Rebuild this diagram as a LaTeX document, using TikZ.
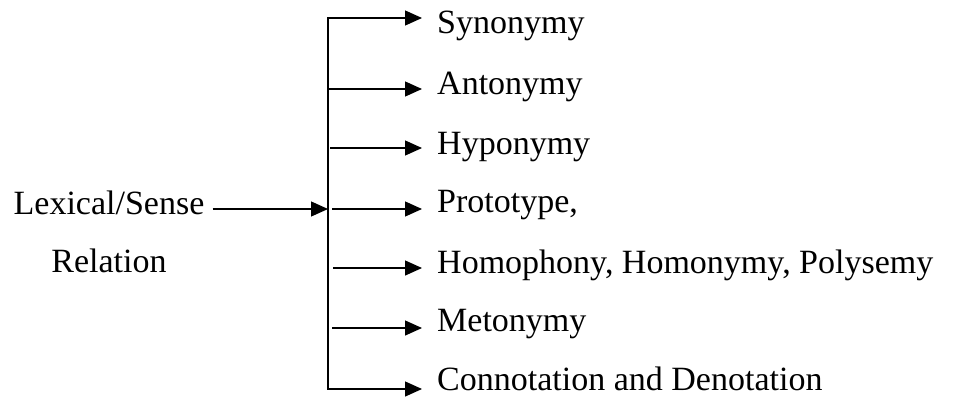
\documentclass[tikz,border=0pt]{standalone}
\usepackage{fontspec}
\setmainfont{Liberation Serif}
\usetikzlibrary{arrows.meta}

\begin{document}
\begin{tikzpicture}[x=1pt,y=-1pt,
    every node/.style={inner sep=0pt,font=\fontsize{34}{40}\selectfont},
    item/.style={anchor=base west},
    arr/.style={line width=1.3pt,-{Triangle[length=17pt,width=15pt]}},
    busline/.style={line width=1.3pt,{Triangle[length=17pt,width=15pt]}-{Triangle[length=17pt,width=15pt]}}]

    \useasboundingbox (0,0) rectangle (957,396);

    \node[anchor=base] (lexical) at (109,214) {Lexical/Sense};
    \node[anchor=base] (relation) at (109,272) {Relation};

    \coordinate (top) at (328,18);
    \coordinate (bottom) at (328,389);
    \coordinate (hub) at (328,209);

    \foreach \name/\ay/\sx/\by/\txt in {
        syn/18/328/34/Synonymy,
        ant/89/328/94/Antonymy,
        hyp/148/330/154/Hyponymy,
        pro/209/332/212/{Prototype,},
        hom/268/333/273/{Homophony, Homonymy, Polysemy},
        met/328/332/331/Metonymy,
        con/389/328/390/Connotation and Denotation}{
      \node[item] (\name) at (437,\by) {\txt};
      \coordinate (\name-tail) at (\sx,\ay);
      \coordinate (\name-tip) at (422,\ay);
    }

    \draw[busline] (syn-tip) -- (top) -- (bottom) -- (con-tip);
    \foreach \name in {ant,hyp,pro,hom,met}
      \draw[arr] (\name-tail) -- (\name-tip);

    \draw[arr] ([xshift=8pt]lexical.east |- hub) -- (hub);
\end{tikzpicture}
\end{document}
